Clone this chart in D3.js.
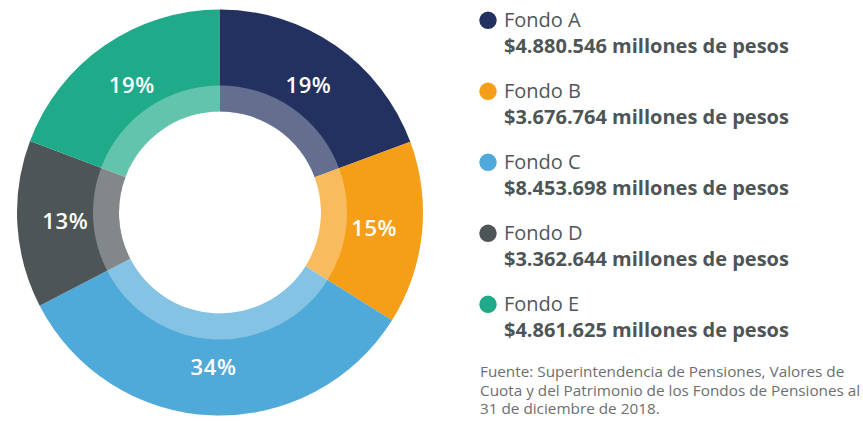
<!DOCTYPE html>
<html>
<head>
<meta charset="utf-8">
<script src="https://cdn.jsdelivr.net/npm/d3@7"></script>
<style>
  html, body { margin: 0; padding: 0; background: #fff; }
  svg { display: block; font-family: "Open Sans", sans-serif; }
</style>
</head>
<body>
<svg id="chart" width="863" height="421"></svg>
<script>
// datos
const fondos = ["Fondo A", "Fondo B", "Fondo C", "Fondo D", "Fondo E"];
const montos = [4880546, 3676764, 8453698, 3362644, 4861625]; // millones de pesos
const pctLabels = ["19%", "15%", "34%", "13%", "19%"];
const colores = ["#22315f", "#f59e18", "#4faad9", "#4d5556", "#1fab8a"];
const fuente = [
  "Fuente: Superintendencia de Pensiones, Valores de",
  "Cuota y del Patrimonio de los Fondos de Pensiones al",
  "31 de diciembre de 2018."
];

const svg = d3.select("#chart");
const cx = 220, cy = 212.5;
const rOuter = 203, rMid = 127, rInner = 101;

const pie = d3.pie().sort(null).value(d => d);
const arcs = pie(montos);

const g = svg.append("g").attr("transform", `translate(${cx},${cy})`);

// anillo exterior
const arcOuter = d3.arc().innerRadius(rInner).outerRadius(rOuter);
g.selectAll("path.seg")
  .data(arcs)
  .enter()
  .append("path")
  .attr("class", "seg")
  .attr("d", arcOuter)
  .attr("fill", (d, i) => colores[i]);

// anillo interior mas claro
const arcLight = d3.arc().innerRadius(rInner).outerRadius(rMid);
g.selectAll("path.light")
  .data(arcs)
  .enter()
  .append("path")
  .attr("class", "light")
  .attr("d", arcLight)
  .attr("fill", "#fff")
  .attr("fill-opacity", 0.3);

// porcentajes
const arcLabel = d3.arc().innerRadius(155).outerRadius(155);
g.selectAll("text.pct")
  .data(arcs)
  .enter()
  .append("text")
  .attr("class", "pct")
  .attr("transform", d => `translate(${arcLabel.centroid(d)})`)
  .attr("text-anchor", "middle")
  .attr("dy", "0.35em")
  .attr("fill", "#fff")
  .attr("font-size", 22)
  .attr("font-weight", 600)
  .attr("letter-spacing", 0.6)
  .text((d, i) => pctLabels[i]);

// leyenda
const fmt = d3.formatLocale({ decimal: ",", thousands: ".", grouping: [3], currency: ["$", ""] }).format("$,");
const leg = svg.append("g").attr("transform", "translate(488,27.3)");
const rows = leg.selectAll("g.row")
  .data(fondos)
  .enter()
  .append("g")
  .attr("class", "row")
  .attr("transform", (d, i) => `translate(0,${i * 71})`);

rows.append("circle")
  .attr("cx", 0)
  .attr("cy", -7)
  .attr("r", 8.7)
  .attr("fill", (d, i) => colores[i]);

rows.append("text")
  .attr("x", 16)
  .attr("y", 0)
  .attr("font-size", 20)
  .attr("fill", "#50575a")
  .text(d => d);

rows.append("text")
  .attr("x", 16)
  .attr("y", 26)
  .attr("font-size", 20)
  .attr("font-weight", 700)
  .attr("fill", "#4d5556")
  .text((d, i) => fmt(montos[i]) + " millones de pesos");

// fuente
svg.append("g")
  .selectAll("text")
  .data(fuente)
  .enter()
  .append("text")
  .attr("x", 480)
  .attr("y", (d, i) => 377 + i * 18.5)
  .attr("font-size", 15.3)
  .attr("fill", "#6d6e70")
  .text(d => d);
</script>
</body>
</html>
